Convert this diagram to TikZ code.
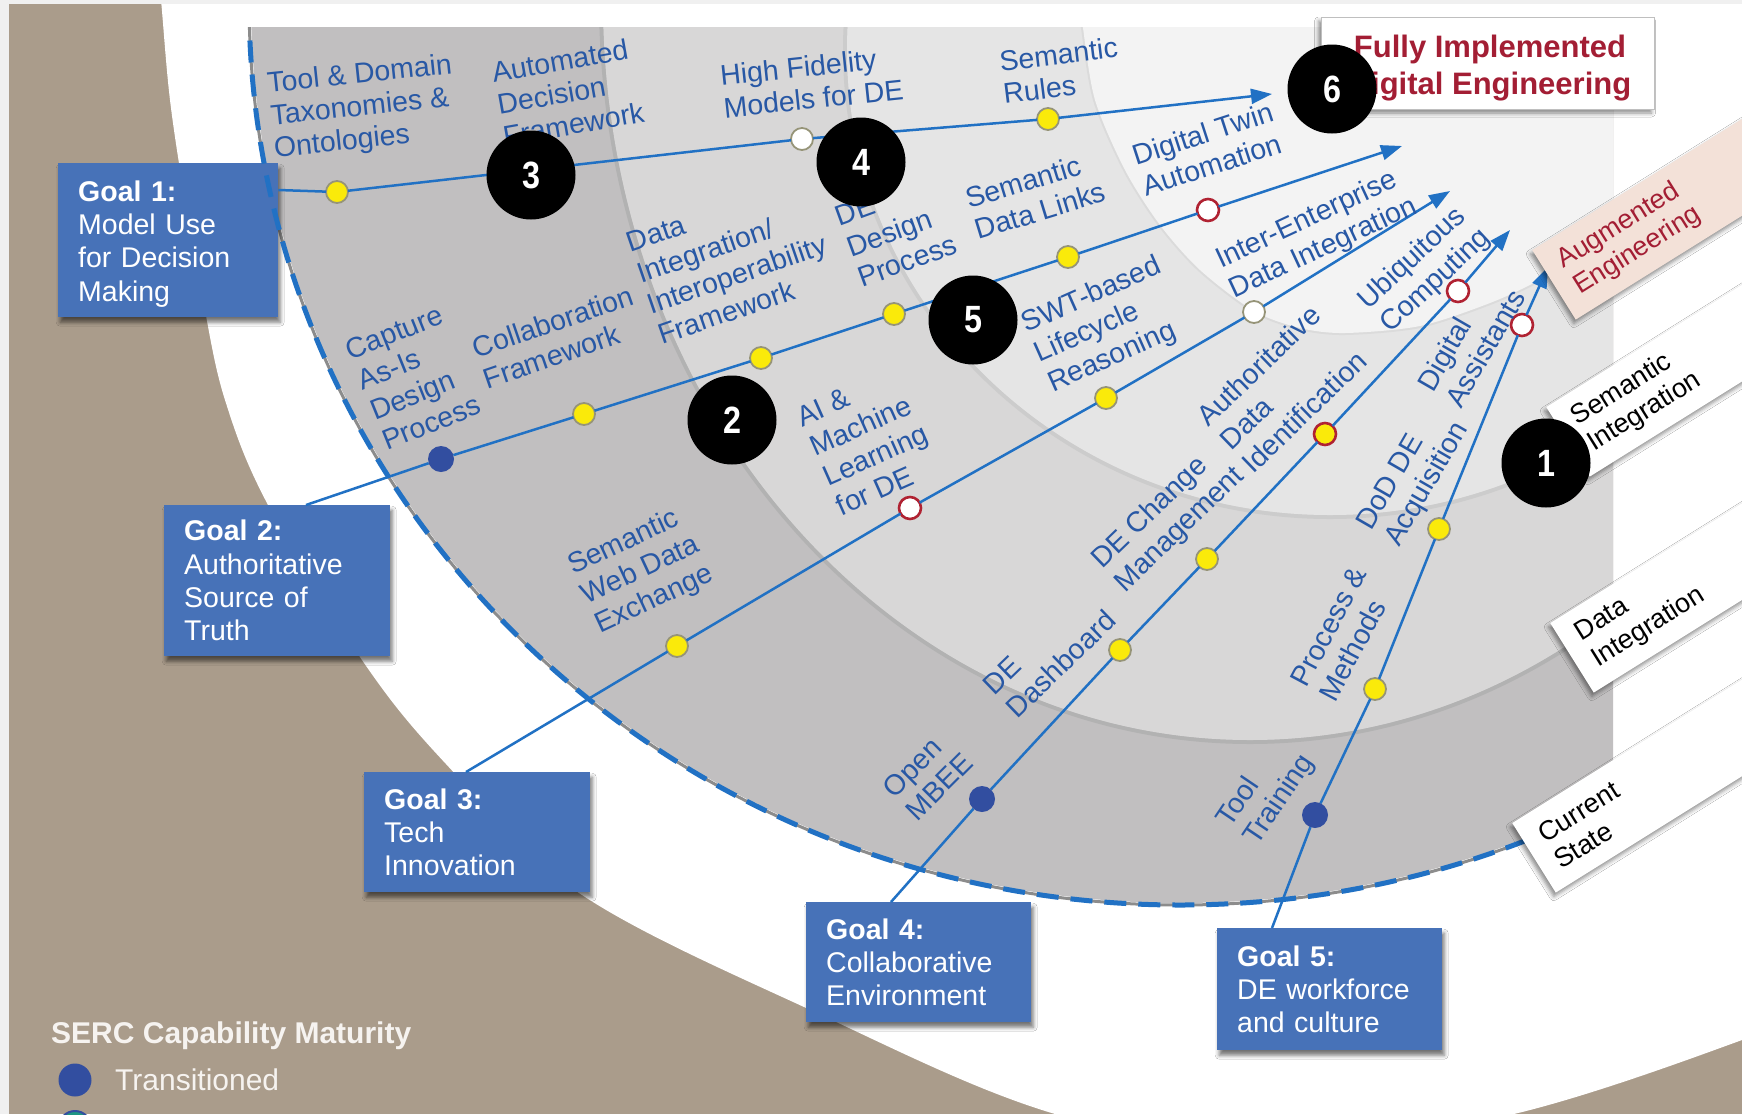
\documentclass[tikz,border=0pt]{standalone}
\usepackage{fontspec}
\setmainfont{Liberation Sans}
\newfontfamily\numfont{Liberation Sans}[FakeStretch=0.85]
\usetikzlibrary{arrows.meta,shadows.blur,calc}

\definecolor{tanbg}{RGB}{170,156,139}
\definecolor{ringA}{RGB}{193,191,192}
\definecolor{ringB}{RGB}{216,215,215}
\definecolor{ringC}{RGB}{229,229,229}
\definecolor{ringD}{RGB}{243,243,243}
\definecolor{goalblue}{RGB}{33,113,196}
\definecolor{lbltext}{RGB}{40,88,165}
\definecolor{goalfill}{RGB}{71,114,184}
\definecolor{dotyellow}{RGB}{250,234,10}
\definecolor{dotrim}{RGB}{150,148,120}
\definecolor{dotblue}{RGB}{50,78,160}
\definecolor{dotred}{RGB}{176,34,50}
\definecolor{deepred}{RGB}{163,30,52}
\definecolor{tagpink}{RGB}{243,225,216}
\definecolor{legtxt}{RGB}{246,243,240}
\definecolor{legteal}{RGB}{30,150,130}

\tikzset{
  lbl/.style={text=lbltext, font=\fontsize{28.5}{32.5}\selectfont, align=left, inner sep=0pt, anchor=north west},
  goalbox/.style={fill=goalfill, text=white, font=\fontsize{28.5}{33.3}\selectfont, align=left,
    inner xsep=20pt, inner ysep=3pt, anchor=north west,
    blur shadow={shadow xshift=2pt, shadow yshift=-5pt, shadow blur radius=4pt, shadow opacity=55}},
  gline/.style={draw=goalblue, line width=2.5pt},
  tipped/.style={-{Triangle[length=21pt,width=15pt]}},
  dotbase/.style={circle, inner sep=0pt, outer sep=0pt, minimum size=22pt, line width=1.8pt},
  dotY/.style={dotbase, fill=dotyellow, draw=dotrim},
  dotW/.style={dotbase, fill=white, draw=dotrim},
  dotR/.style={dotbase, fill=white, draw=dotred, line width=2.6pt},
  dotYR/.style={dotbase, fill=dotyellow, draw=dotred, line width=2.6pt},
  dotB/.style={dotbase, minimum size=26pt, fill=dotblue},
  numc/.style={circle, fill=black, text=white, minimum size=89pt, inner sep=0pt,
    font=\numfont\fontsize{38}{40}\selectfont\bfseries},
  tag/.style={fill=white, rotate=32, anchor=north west, minimum height=82pt, text width=386pt,
    inner xsep=17pt, inner ysep=0pt, align=left, font=\fontsize{27}{31}\selectfont,
    blur shadow={shadow xshift=-2pt, shadow yshift=-4pt, shadow blur radius=4pt, shadow opacity=45}},
}

\begin{document}
\begin{tikzpicture}[x=1pt,y=-1pt]
\useasboundingbox (0,0) rectangle (1742,1114);
\clip (0,0) rectangle (1742,1114);

% tan field with the white disc cut into it
\fill[tanbg] (0,0) rectangle (1742,1114);
\fill[white] plot[smooth, tension=0.6] coordinates {(158,-20) (161,0) (170,100) (185,200) (203,300)
  (225,400) (268,505) (362,660) (446,764) (579,893) (817,1013) (1055,1114)
  (1280,1150) (1514,1114) (1742,1040) (1800,1010)} -- (1800,-20) -- cycle;
\fill[black!6] (0,0) rectangle (1742,4);
\fill[black!6] (0,0) rectangle (9,1114);

% maturity rings
\begin{scope}
  \clip (0,27) rectangle (1613,1120);
  \draw[black!45, line width=3pt] (1180,0) ellipse [x radius=931, y radius=905];
  \fill[ringA] (1180,0) ellipse [x radius=929, y radius=903];
  \draw[black!30, line width=4pt] (1250,0) ellipse [x radius=649, y radius=742];
  \fill[ringB] (1250,0) ellipse [x radius=647, y radius=740];
  \draw[black!20, line width=4pt] (1330,50) ellipse [x radius=485, y radius=467];
  \fill[ringC] (1330,50) ellipse [x radius=483, y radius=465];
  \draw[black!14, line width=4pt] plot[smooth] coordinates {(1080,0) (1083,28) (1095,100) (1125,170)
    (1160,225) (1200,270) (1254,311) (1300,328) (1345,333) (1420,326) (1490,303) (1540,280)
    (1600,248) (1650,215)};
  \fill[ringD] plot[smooth] coordinates {(1080,0) (1083,28) (1095,100) (1125,170)
    (1160,225) (1200,270) (1254,311) (1300,328) (1345,333) (1420,326) (1490,303) (1540,280)
    (1600,248) (1650,215)} -- (1700,150) -- (1700,0) -- cycle;
\end{scope}

% goal boxes
\node[goalbox, text width=180pt, minimum height=154pt] (g1) at (58,163)
  {\rule{0pt}{28pt}\textbf{Goal 1:}\\Model Use\\for Decision\\Making};
\node[goalbox, text width=186pt, minimum height=151pt] (g2) at (164,505)
  {\textbf{Goal 2:}\\Authoritative\\Source of\\Truth};
\node[goalbox, text width=186pt, minimum height=120pt] (g3) at (364,772)
  {\textbf{Goal 3:}\\Tech\\Innovation};
\node[goalbox, text width=185pt, minimum height=120pt] (g4) at (806,902)
  {\textbf{Goal 4:}\\Collaborative\\Environment};
\node[goalbox, text width=185pt, minimum height=122pt] (g5) at (1217,928)
  {\textbf{Goal 5:}\\DE workforce\\and culture};

% dashed outer rim of the current state
\begin{scope}
  \clip (0,29) rectangle (1613,1114);
  \draw[goalblue, line width=5pt, dash pattern=on 22pt off 12pt] (1180,0) ellipse [x radius=931, y radius=905];
\end{scope}

% capability dots
\node[dotY] (d11) at (337,192) {};
\node[dotW] (d12) at (802,139) {};
\node[dotY] (d13) at (1048,119) {};

\node[dotB] (d21) at (441,459) {};
\node[dotY] (d22) at (584,414) {};
\node[dotY] (d23) at (761,358) {};
\node[dotY] (d24) at (894,314) {};
\node[dotY] (d25) at (1068,257) {};
\node[dotR] (d26) at (1208,210) {};

\node[dotY] (d31) at (677,646) {};
\node[dotR] (d32) at (910,508) {};
\node[dotY] (d33) at (1106,398) {};
\node[dotW] (d34) at (1254,312) {};

\node[dotB] (d41) at (982,799) {};
\node[dotY] (d42) at (1120,650) {};
\node[dotY] (d43) at (1207,559) {};
\node[dotYR] (d44) at (1325,434) {};
\node[dotR] (d45) at (1458,291) {};

\node[dotB] (d51) at (1315,815) {};
\node[dotY] (d52) at (1375,689) {};
\node[dotY] (d53) at (1439,529) {};
\node[dotR] (d54) at (1522,325) {};

% line ends
\coordinate (g1s) at ($(g1.north east)+(0,27)$);
\coordinate (g2s) at ($(g2.north west)+(142,0)$);
\coordinate (g3s) at ($(g3.north west)+(102,0)$);
\coordinate (g4s) at ($(g4.north west)+(85,0)$);
\coordinate (g5s) at ($(g5.north west)+(55,0)$);
\coordinate (t1) at (1272,94);
\coordinate (t2) at (1402,146);
\coordinate (t3) at (1450,191);
\coordinate (t4) at (1510,230);
\coordinate (t5) at (1548,267);

% goal roadmaps
\draw[gline, tipped] (g1s) -- (d11) -- (d12) -- (d13) -- (t1);
\draw[gline, tipped] (g2s) -- (d21) -- (d22) -- (d23) -- (d24) -- (d25) -- (d26) -- (t2);
\draw[gline, tipped] (g3s) -- (d31) -- (d32) -- (d33) -- (d34) -- (t3);
\draw[gline, tipped] (g4s) -- (d41) -- (d42) -- (d43) -- (d44) -- (d45) -- (t4);
\draw[gline, tipped] (g5s) -- (d51) -- (d52) -- (d53) -- (d54) -- (t5);

% capability labels
\node[lbl, rotate=6]  (l1)  at (266,72)   {Tool \& Domain\\Taxonomies \&\\Ontologies};
\node[lbl, rotate=10] (l2)  at (490,62)   {Automated\\Decision\\Framework};
\node[lbl, rotate=6]  (l3)  at (719,65)   {High Fidelity\\Models for DE};
\node[lbl, rotate=7]  (l4)  at (998,51)   {Semantic\\Rules};
\node[lbl, rotate=18] (l5)  at (1130,146) {Digital Twin\\Automation};
\node[lbl, rotate=17] (l6)  at (963,189)  {Semantic\\Data Links};
\node[lbl, rotate=20] (l7)  at (833,208)  {DE\\Design\\Process};
\node[lbl, rotate=19] (l8)  at (624,234)  {Data\\Integration/\\Interoperability\\Framework};
\node[lbl, rotate=19] (l9)  at (470,339)  {Collaboration\\Framework};
\node[lbl, rotate=22] (l10) at (343,342)  {Capture\\As-Is\\Design\\Process};
\node[lbl, rotate=24] (l11) at (794,409)  {AI \&\\Machine\\Learning\\for DE};
\node[lbl, rotate=25] (l12) at (564,556)  {Semantic\\Web Data\\Exchange};
\node[lbl, rotate=24] (l13) at (1018,314) {SWT-based\\Lifecycle\\Reasoning};
\node[lbl, rotate=25] (l14) at (1212,250) {Inter-Enterprise\\Data Integration};
\node[lbl, rotate=44] (l15) at (1194,413) {Authoritative\\Data\\Identification};
\node[lbl, rotate=43] (l16) at (1354,295) {Ubiquitous\\Computing};
\node[lbl, rotate=60] (l17) at (1415,383) {Digital\\Assistants};
\node[lbl, rotate=44] (l18) at (1088,555) {DE Change\\Management};
\node[lbl, rotate=44] (l19) at (981,682)  {DE\\Dashboard};
\node[lbl, rotate=45] (l20) at (880,785)  {Open\\MBEE};
\node[lbl, rotate=60] (l21) at (1354,522) {DoD DE\\Acquisition};
\node[lbl, rotate=62] (l22) at (1289,679) {Process \&\\Methods};
\node[lbl, rotate=56] (l23) at (1213,817) {Tool\\Training};

% stage tags
\node[tag, fill=tagpink, text=deepred] (sAE) at (1532,250) {Augmented\\Engineering};
\node[tag] (sSI) at (1546,407) {Semantic\\Integration};
\node[tag] (sDI) at (1550,623) {Data\\Integration};
\node[tag] (sCS) at (1512,823) {Current\\State};

% end state
\node[fill=white, draw=black!25, minimum width=333pt, minimum height=92pt,
  blur shadow={shadow xshift=-3pt, shadow yshift=-4pt, shadow blur radius=4pt, shadow opacity=45}]
  (fi) at (1488,63) {};
\node[align=center, inner sep=0pt, text=deepred, font=\fontsize{31}{37}\selectfont\bfseries]
  (fit) at (1490,68) {Fully Implemented\\Digital Engineering};

% numbered markers
\node[numc] (n1) at (1546,463) {1};
\node[numc] (n2) at (732,420)  {2};
\node[numc] (n3) at (531,175)  {3};
\node[numc] (n4) at (861,162)  {4};
\node[numc] (n5) at (973,320)  {5};
\node[numc] (n6) at (1332,89)  {6};

% legend
\node[anchor=base west, inner sep=0pt, text=legtxt, font=\fontsize{30}{32}\selectfont\bfseries]
  (legt) at (51,1043) {SERC Capability Maturity};
\node[circle, fill=dotblue, minimum size=33pt, inner sep=0pt] (leg1) at (75,1080) {};
\node[anchor=base west, inner sep=0pt, text=legtxt, font=\fontsize{30}{32}\selectfont]
  (leg1t) at (115,1090) {Transitioned};
\node[circle, fill=legteal, draw=dotblue, line width=2pt, minimum size=32pt, inner sep=0pt]
  (leg2) at (75,1127) {};
\end{tikzpicture}
\end{document}
